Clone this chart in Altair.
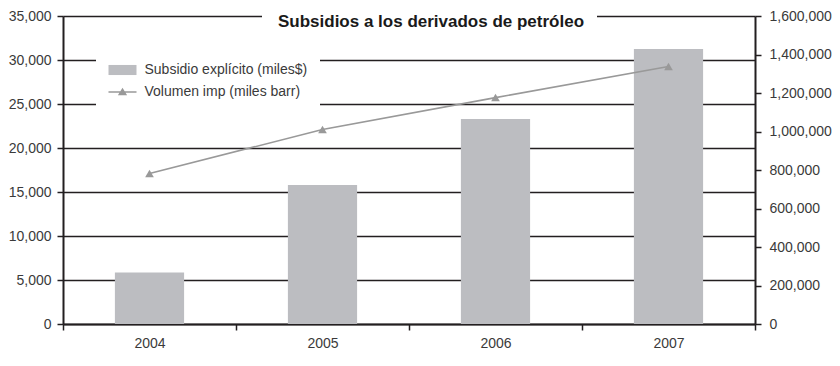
import altair as alt
import pandas as pd

years = ["2004", "2005", "2006", "2007"]
subsidio = [5850, 15800, 23300, 31250]
volumen = [782000, 1010000, 1176000, 1338000]

serie_bar = "Subsidio explícito (miles$)"
serie_line = "Volumen imp (miles barr)"
title_text = "Subsidios a los derivados de petróleo"

left_ticks = [0, 5000, 10000, 15000, 20000, 25000, 30000, 35000]
right_ticks = [0, 200000, 400000, 600000, 800000, 1000000, 1200000, 1400000, 1600000]

df = pd.DataFrame({"year": years, "subsidio": subsidio, "volumen": volumen})

FONT = "Liberation Sans"
INK = "#231f20"
LABEL = "#3a3a3a"
BAR = "#bcbdc1"
LINE = "#999999"
FS = 14

x_enc = alt.X(
    "year:N",
    title=None,
    sort=years,
    scale=alt.Scale(paddingInner=0, paddingOuter=0),
    axis=alt.Axis(
        labelAngle=0, labelFontSize=FS, labelColor=LABEL, labelFont=FONT,
        labelPadding=6, tickSize=6, tickColor=INK, tickWidth=1.5,
        domainColor=INK, domainWidth=2, tickBand="extent", grid=False,
    ),
)

bars = alt.Chart(df).mark_bar(color=BAR, width={"band": 0.4}).encode(
    x=x_enc,
    y=alt.Y(
        "subsidio:Q",
        title=None,
        scale=alt.Scale(domain=[0, 35000], nice=False),
        axis=alt.Axis(
            orient="left", values=left_ticks, format=",.0f", labelFontSize=FS,
            labelColor=LABEL, labelFont=FONT, labelPadding=6, tickSize=6,
            tickColor=INK, tickWidth=1.5, domainColor=INK, domainWidth=2,
            grid=True, gridColor=INK, gridWidth=1.6, gridOpacity=1,
        ),
    ),
)

y_right = alt.Y(
    "volumen:Q",
    title=None,
    scale=alt.Scale(domain=[0, 1600000], nice=False),
    axis=alt.Axis(
        orient="right", values=right_ticks, format=",.0f", labelFontSize=FS,
        labelColor=LABEL, labelFont=FONT, labelPadding=8, tickSize=6,
        tickColor=INK, tickWidth=1.5, domainColor=INK, domainWidth=2, grid=False,
    ),
)

line = alt.Chart(df).mark_line(color=LINE, strokeWidth=1.6).encode(x=x_enc, y=y_right)
pts = alt.Chart(df).mark_point(
    shape="triangle-up", filled=True, color=LINE, size=75, opacity=1
).encode(x=x_enc, y=y_right)

legend = alt.Legend(
    title=None, orient="none", legendX=33, legendY=27.5, padding=12.5,
    fillColor="white", strokeColor=None, symbolSize=784, symbolStrokeWidth=0,
    symbolOpacity=1, labelFontSize=FS, labelColor=LABEL, labelFont=FONT,
    labelOffset=8, rowPadding=1, labelLimit=400,
)
path_bar = "M-1,-0.36H1V0.36H-1Z"
path_line = "M-1,-0.05H1V0.05H-1ZM-0.33,0.24L0,-0.3L0.33,0.24Z"

legend_layer = alt.Chart(df).transform_calculate(
    serie=f"'{serie_line}'"
).transform_filter("false").mark_point(filled=True, opacity=1).encode(
    x=x_enc,
    y=y_right,
    color=alt.Color("serie:N", scale=alt.Scale(domain=[serie_bar, serie_line], range=[BAR, LINE]), legend=legend),
    shape=alt.Shape("serie:N", scale=alt.Scale(domain=[serie_bar, serie_line], range=[path_bar, path_line]), legend=legend),
)

mask_df = pd.DataFrame({"k": [0]})
mask = alt.Chart(mask_df).mark_rect(color="white").encode(
    x=alt.value(199), x2=alt.value(534), y=alt.value(-4), y2=alt.value(5)
)
title = alt.Chart(mask_df).mark_text(
    text=title_text, font=FONT, fontSize=17, fontWeight="bold", color="#1a1a1a",
    align="center", baseline="alphabetic",
).encode(x=alt.value(368), y=alt.value(11))

right_layer = alt.layer(line, pts, legend_layer)

chart = alt.layer(bars, right_layer, mask, title).resolve_scale(
    y="independent"
).properties(
    width=692, height=308,
    autosize=alt.AutoSizeParams(type="none"),
    padding={"left": 55, "top": 8, "right": 77, "bottom": 28},
).configure_view(stroke=None).configure(background="white")

chart.save("out.html", embed_options={"renderer": "svg", "actions": False})
